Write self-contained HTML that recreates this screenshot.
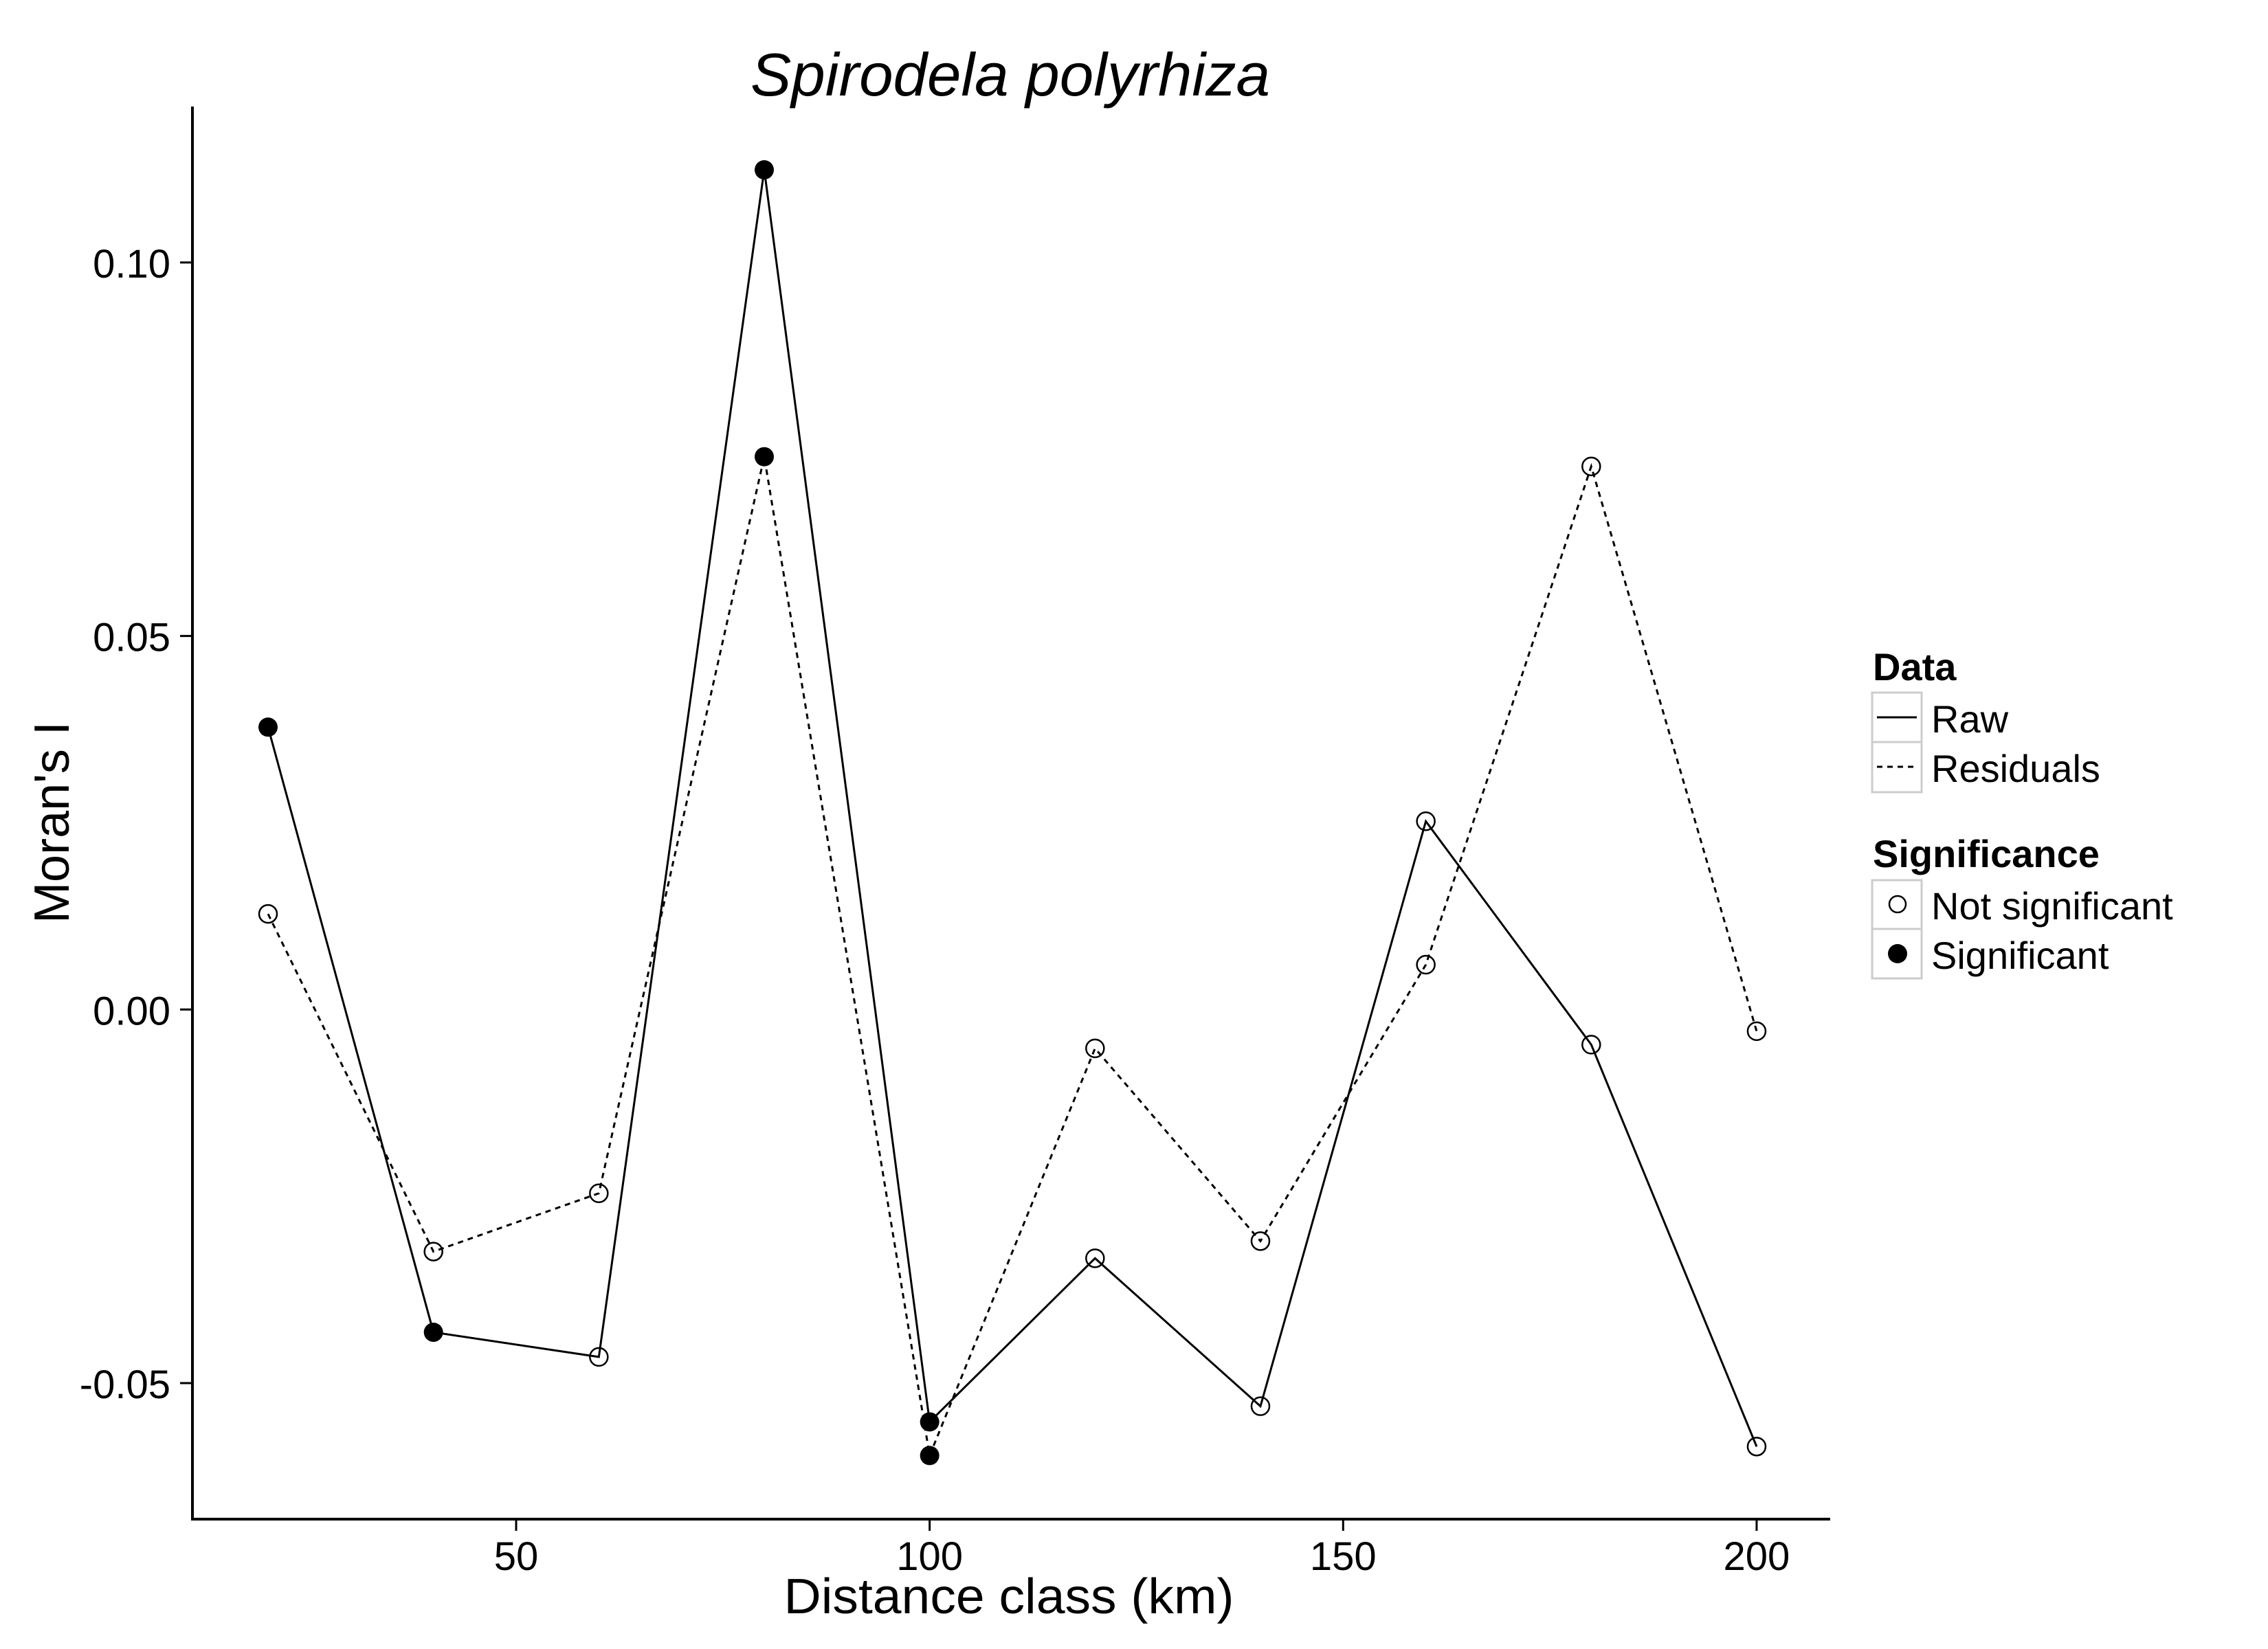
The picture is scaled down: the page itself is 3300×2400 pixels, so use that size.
<!DOCTYPE html>
<html><head><meta charset="utf-8"><style>
html,body{margin:0;padding:0;background:#fff;}
svg{display:block;font-family:"Liberation Sans",Arial,sans-serif;}
</style></head><body>
<svg id="chart" width="3300" height="2400" viewBox="0 0 3300 2400" xmlns="http://www.w3.org/2000/svg">
<rect width="3300" height="2400" fill="#fff"/>
<text x="1470" y="139" font-size="88" font-style="italic" text-anchor="middle" textLength="756" lengthAdjust="spacingAndGlyphs">Spirodela polyrhiza</text>
<g id="plot"></g>
<text x="1468" y="2348" font-size="72" text-anchor="middle" textLength="655" lengthAdjust="spacingAndGlyphs">Distance class (km)</text>
<text x="0" y="0" font-size="72" text-anchor="middle" transform="translate(100,1197) rotate(-90)">Moran's I</text>
<g>
  <text x="2725" y="990" font-size="56" font-weight="bold">Data</text>
  <rect x="2724" y="1008" width="72" height="72" fill="#fff" stroke="#ccc" stroke-width="3"/>
  <line x1="2731" y1="1044" x2="2789" y2="1044" stroke="#000" stroke-width="3"/>
  <text x="2810" y="1066" font-size="56">Raw</text>
  <rect x="2724" y="1080" width="72" height="73" fill="#fff" stroke="#ccc" stroke-width="3"/>
  <line x1="2731" y1="1116" x2="2789" y2="1116" stroke="#000" stroke-width="3" stroke-dasharray="8,7"/>
  <text x="2810" y="1138" font-size="56">Residuals</text>
  <text x="2725" y="1262" font-size="56" font-weight="bold">Significance</text>
  <rect x="2724" y="1281" width="72" height="71" fill="#fff" stroke="#ccc" stroke-width="3"/>
  <circle cx="2761" cy="1316" r="12" fill="#fff" stroke="#000" stroke-width="2.5"/>
  <text x="2810" y="1338" font-size="56">Not significant</text>
  <rect x="2724" y="1352" width="72" height="72" fill="#fff" stroke="#ccc" stroke-width="3"/>
  <circle cx="2761" cy="1388" r="14" fill="#000"/>
  <text x="2810" y="1410" font-size="56">Significant</text>
</g>
</svg>
<script>
const distances = [20, 40, 60, 80, 100, 120, 140, 160, 180, 200];
const rawValues = [0.0378, -0.0432, -0.0465, 0.1124, -0.0552, -0.0333, -0.0531, 0.0252, -0.0047, -0.0585];
const rawSignificant = [1, 1, 0, 1, 1, 0, 0, 0, 0, 0];
const residualValues = [0.0128, -0.0324, -0.0246, 0.0740, -0.0597, -0.0052, -0.0310, 0.0060, 0.0727, -0.0029];
const residualSignificant = [0, 0, 0, 1, 1, 0, 0, 0, 0, 0];
const xTicks = [50, 100, 150, 200];
const yTicks = [-0.05, 0.00, 0.05, 0.10];
const yTickLabels = ["-0.05", "0.00", "0.05", "0.10"];

const NS = "http://www.w3.org/2000/svg";
const plot = document.getElementById('plot');
function xs(v){ return 751 + (v - 50) * 12.033; }
function ys(v){ return 1469.3 - v * 10873; }
function mk(tag, attrs, parent){ const e = document.createElementNS(NS, tag); for (const k in attrs) e.setAttribute(k, attrs[k]); (parent||plot).appendChild(e); return e; }

// axes
const xAxis = mk('line', {x1:280, y1:2211, x2:2663, y2:2211, stroke:'#000', 'stroke-width':4});


const yAxis = mk('line', {x1:280, y1:155, x2:280, y2:2213, stroke:'#000', 'stroke-width':4});



xTicks.forEach(t => {
  const x = xs(t);
  mk('line', {x1:x, y1:2211, x2:x, y2:2228, stroke:'#000', 'stroke-width':3});
  const tx = mk('text', {x:x, y:2285, 'font-size':58, 'text-anchor':'middle'});
  tx.textContent = String(t);
  
  
});
yTicks.forEach((t, i) => {
  const y = ys(t);
  mk('line', {x1:262, y1:y, x2:280, y2:y, stroke:'#000', 'stroke-width':3});
  const tx = mk('text', {x:248, y:y + 22, 'font-size':58, 'text-anchor':'end'});
  tx.textContent = yTickLabels[i];
  
  
});

function drawSeries(vals, sig, dash, name){
  const pts = distances.map((d, i) => xs(d) + ',' + ys(vals[i])).join(' ');
  const attrs = {points:pts, fill:'none', stroke:'#000', 'stroke-width':3};
  if (dash) attrs['stroke-dasharray'] = dash;
  const pl = mk('polyline', attrs);
  
  
  distances.forEach((d, i) => {
    const c = sig[i]
      ? mk('circle', {cx:xs(d), cy:ys(vals[i]), r:14, fill:'#000'})
      : mk('circle', {cx:xs(d), cy:ys(vals[i]), r:13, fill:'none', stroke:'#000', 'stroke-width':2.5});
    
    
  });
}
drawSeries(residualValues, residualSignificant, '8,7', 'residuals');
drawSeries(rawValues, rawSignificant, null, 'raw');
</script>
</body></html>
